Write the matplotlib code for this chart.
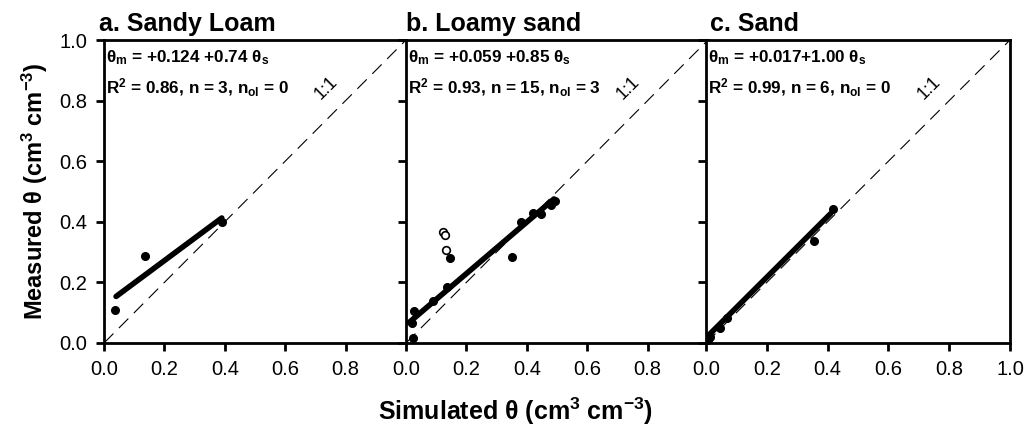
import matplotlib
matplotlib.use("Agg")
import matplotlib.pyplot as plt
import numpy as np

plt.rcParams['font.family'] = ['Liberation Sans', 'DejaVu Sans']
plt.rcParams['mathtext.fontset'] = 'custom'
plt.rcParams['mathtext.rm'] = 'Liberation Sans'
plt.rcParams['mathtext.bf'] = 'Liberation Sans:bold'
plt.rcParams['mathtext.it'] = 'Liberation Sans:italic'

# panel titles
titles = ['a. Sandy Loam', 'b. Loamy sand', 'c. Sand']

# a. Sandy loam
sl_sim = [0.036, 0.137, 0.392]
sl_meas = [0.109, 0.288, 0.400]

# b. Loamy sand (filled = used, open = outliers)
ls_sim = [0.022, 0.019, 0.027, 0.088, 0.136, 0.147, 0.351, 0.382, 0.419, 0.447, 0.480, 0.494]
ls_meas = [0.015, 0.065, 0.107, 0.140, 0.184, 0.280, 0.285, 0.400, 0.430, 0.426, 0.455, 0.470]
ls_out_sim = [0.124, 0.129, 0.133]
ls_out_meas = [0.365, 0.358, 0.307]

# c. Sand
sa_sim = [0.008, 0.013, 0.046, 0.068, 0.354, 0.417]
sa_meas = [0.010, 0.021, 0.048, 0.081, 0.338, 0.441]

# fitted lines: intercept, slope, x range
fits = [(0.124, 0.74, 0.04, 0.39), (0.059, 0.85, 0.01, 0.49), (0.017, 1.00, 0.0, 0.41)]
eq_text = [r'θ$_{\mathbf{m}}$ = +0.124 +0.74 θ$_{\mathbf{s}}$',
           r'θ$_{\mathbf{m}}$ = +0.059 +0.85 θ$_{\mathbf{s}}$',
           r'θ$_{\mathbf{m}}$ = +0.017+1.00 θ$_{\mathbf{s}}$']
stat_text = [r'R$^{\mathbf{2}}$ = 0.86, n = 3, n$_{\mathbf{ol}}$ = 0',
             r'R$^{\mathbf{2}}$ = 0.93, n = 15, n$_{\mathbf{ol}}$ = 3',
             r'R$^{\mathbf{2}}$ = 0.99, n = 6, n$_{\mathbf{ol}}$ = 0']

data = [(sl_sim, sl_meas), (ls_sim, ls_meas), (sa_sim, sa_meas)]

fig = plt.figure(figsize=(10.32, 4.37), dpi=100)
lefts = [104 / 1032, 406 / 1032, 706 / 1032]
title_dx = [-0.016, 0.0, 0.013]
width = 302 / 1032
bottom = 1 - 343 / 437
height = 303 / 437

for i in range(3):
    ax = fig.add_axes([lefts[i], bottom, width if i < 2 else 304 / 1032, height])
    ax.set_xlim(0, 1)
    ax.set_ylim(0, 1)

    # 1:1 line
    ax.plot([0, 1], [0, 1], color='black', lw=0.8, ls=(0, (12, 7)))
    ax.text(0.735, 0.84, '1:1', rotation=45, fontsize=13, ha='center', va='center')

    # regression line
    b0, b1, x0, x1 = fits[i]
    xs = np.array([x0, x1])
    ax.plot(xs, b0 + b1 * xs, color='black', lw=4, solid_capstyle='round', zorder=3)

    x, y = data[i]
    ax.plot(x, y, 'o', color='black', ms=5.5, zorder=4)
    if i == 1:
        ax.plot(ls_out_sim, ls_out_meas, 'o', mfc='white', mec='black', mew=1.2, ms=5.5, zorder=4)

    ax.text(0.008, 0.925, eq_text[i], fontsize=12.3, fontweight='bold', ha='left', va='baseline')
    ax.text(0.008, 0.822, stat_text[i], fontsize=12.3, fontweight='bold', ha='left', va='baseline')

    ax.text(title_dx[i], 1.012, titles[i], transform=ax.transAxes, fontsize=18, fontweight='bold',
            ha='left', va='bottom')

    for s in ['left', 'top', 'bottom', 'right']:
        ax.spines[s].set_linewidth(2)
    if i < 2:
        ax.spines['right'].set_visible(False)
        ax.set_xticks(np.arange(0, 0.81, 0.2))
    else:
        ax.set_xticks(np.arange(0, 1.01, 0.2))
    ax.xaxis.set_major_formatter(matplotlib.ticker.FormatStrFormatter('%.1f'))
    ax.set_yticks(np.arange(0, 1.01, 0.2))
    ax.yaxis.set_major_formatter(matplotlib.ticker.FormatStrFormatter('%.1f'))
    ax.tick_params(direction='out', length=6, width=2, labelsize=14.5, pad=6)
    if i > 0:
        ax.tick_params(axis='y', labelleft=False)
    if i == 0:
        ax.set_ylabel(r'Measured θ (cm$^{\mathbf{3}}$ cm$^{\mathbf{-3}}$)', fontsize=17,
                      fontweight='bold', labelpad=7)

fig.text(0.5, 0.04, r'Simulated θ (cm$^{\mathbf{3}}$ cm$^{\mathbf{-3}}$)', fontsize=18,
         fontweight='bold', ha='center', va='baseline')

fig.savefig('out.png', dpi=100)
